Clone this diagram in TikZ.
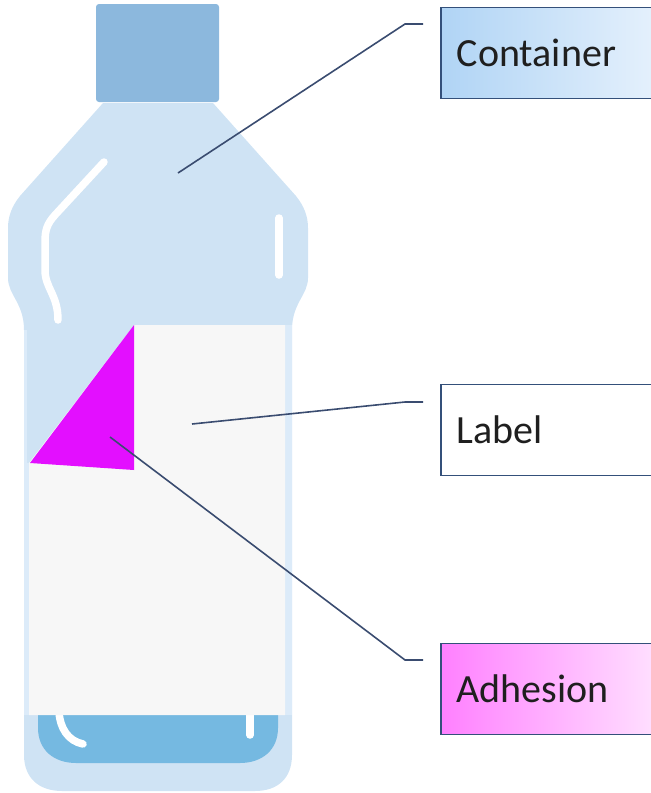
\documentclass[tikz,border=0pt]{standalone}
\usepackage{fontspec}
\setmainfont{Carlito}
\definecolor{bottle}{HTML}{CFE3F4}
\definecolor{rim}{HTML}{DCEBF9}
\definecolor{capc}{HTML}{8CB8DD}
\definecolor{liquid}{HTML}{75B9E1}
\definecolor{labelc}{HTML}{F7F7F7}
\definecolor{glue}{HTML}{E30FFF}
\definecolor{linec}{HTML}{3A4C70}
\definecolor{boxline}{HTML}{34507A}
\tikzset{
  callout/.style={draw=boxline,line width=1.6pt,rectangle,minimum height=91pt,inner xsep=16pt,text width=179.5pt,align=left,font=\fontsize{40}{42}\selectfont,text=black!88},
  leader/.style={draw=linec,line width=1.6pt},
  shine/.style={draw=white,line width=7.5pt,line cap=round,line join=round}
}
\begin{document}
\begin{tikzpicture}[x=1pt,y=-1pt]
\useasboundingbox (0,0) rectangle (651,793);
% bottle body
\path[fill=bottle] (103,103) -- (213,103) -- (296,196)
  .. controls (304,206) and (308,216) .. (308,228)
  -- (308,278) .. controls (308,295) and (292,303) .. (292,330)
  -- (292,755) .. controls (292,778) and (278,791) .. (255,791)
  -- (62,791) .. controls (39,791) and (24,778) .. (24,755)
  -- (24,330) .. controls (24,303) and (8,295) .. (8,278)
  -- (8,228) .. controls (8,216) and (12,206) .. (20,196) -- cycle;
% clear side strips
\path[fill=rim] (24,330) rectangle (26.5,715);
\path[fill=rim] (26,463) rectangle (29,715);
\path[fill=rim] (285,325) rectangle (292,715);
% liquid
\path[fill=liquid] (38,700) -- (278,700) -- (278,728)
  .. controls (278,750) and (262,763) .. (240,763)
  -- (76,763) .. controls (54,763) and (38,750) .. (38,728) -- cycle;
% cap
\path[fill=capc,rounded corners=3pt] (96,4) rectangle (219,102);
% highlights
\draw[shine] (104,162) -- (55,215) .. controls (47,224) and (45,230) .. (45,242)
  -- (45,270) .. controls (45,288) and (58,295) .. (58,320);
\draw[shine] (279,218) -- (279,275);
\draw[shine] (59,712) .. controls (60,728) and (68,741) .. (83,744);
\draw[shine] (250,712) -- (250,735);
% label
\path[fill=labelc] (134,325) -- (285,325) -- (285,715) -- (29,715) -- (29,463) -- cycle;
% adhesive corner
\path[fill=glue] (134,325) -- (134,470) -- (30,463) -- cycle;
% callout boxes
\node[callout,left color={rgb,255:red,176;green,212;blue,245},right color={rgb,255:red,228;green,240;blue,252},anchor=north west] (container) at (440,6.5) {Container};
\node[callout,fill=white,anchor=north west] (labelbox) at (440,383.5) {Label};
\node[callout,left color={rgb,255:red,255;green,128;blue,255},right color={rgb,255:red,255;green,222;blue,255},anchor=north west] (adhesion) at (440,642.5) {Adhesion};
% leaders
\coordinate (c0) at (178,173); \coordinate (c1) at (405,24); \coordinate (c2) at (423,24);
\coordinate (l0) at (192,424); \coordinate (l1) at (405,402); \coordinate (l2) at (423,402);
\coordinate (a0) at (110,437); \coordinate (a1) at (405,660); \coordinate (a2) at (423,660);
\draw[leader] (c0) -- (c1) -- (c2);
\draw[leader] (l0) -- (l1) -- (l2);
\draw[leader] (a0) -- (a1) -- (a2);
\end{tikzpicture}
\end{document}
